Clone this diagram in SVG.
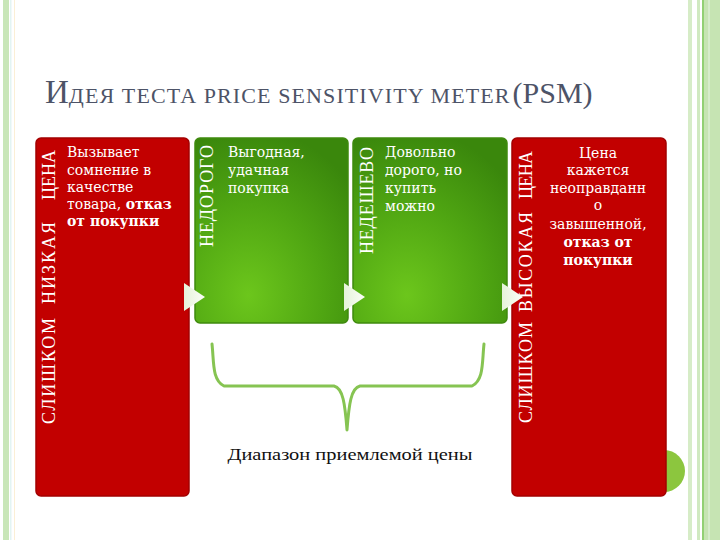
<svg xmlns="http://www.w3.org/2000/svg" width="720" height="540" viewBox="0 0 720 540">
<defs>
<style>
.lbl{font-family:"Liberation Serif","DejaVu Serif",serif;font-size:18px;fill:#ffffff;}
.body{font-family:"DejaVu Serif","Liberation Serif",serif;font-size:14px;fill:#ffffff;}
.bold{font-weight:bold;}
.red{fill:#c20000;stroke:#a30000;stroke-width:1.5;}
.green{fill:url(#gg);stroke:#3f8a0e;stroke-width:1.5;}
.tri{fill:url(#tg);}
</style>
<radialGradient id="gg" cx="0.35" cy="0.85" r="0.9">
<stop offset="0" stop-color="#6cc61c"/>
<stop offset="0.55" stop-color="#4fa512"/>
<stop offset="1" stop-color="#3a870c"/>
</radialGradient>
<linearGradient id="tg" x1="0" y1="0" x2="1" y2="0">
<stop offset="0" stop-color="#e6f3da"/>
<stop offset="1" stop-color="#fbfdf8"/>
</linearGradient>
</defs>
<rect width="720" height="540" fill="#ffffff"/>
<g id="frame">
<rect x="3" y="0" width="6" height="540" fill="#c9e6b8"/>
<rect x="10" y="0" width="1.5" height="540" fill="#e3f4f3"/>
<rect x="14" y="0" width="1" height="540" fill="#fbefd6"/>
<rect x="688" y="0" width="4" height="540" fill="#d6ecc7"/>
<rect x="697" y="0" width="3" height="540" fill="#d0e9c0"/>
<rect x="702" y="0" width="2" height="540" fill="#92d074"/>
<rect x="704" y="0" width="16" height="540" fill="#c6e4b3"/>
<rect x="708" y="0" width="2" height="540" fill="#d6eccb"/>
</g>
<text id="title" x="45" y="103" font-family="'Liberation Serif','DejaVu Serif',serif" fill="#4d5367"><tspan font-size="33">И</tspan><tspan font-size="22" letter-spacing="1.1">ДЕЯ ТЕСТА PRICE SENSITIVITY METER</tspan><tspan font-size="30" dx="2">(PSM)</tspan></text>
<circle id="dot" cx="664" cy="471" r="21" fill="#8cc63e"/>
<g id="n1">
<rect class="red" x="36" y="138" width="153" height="358" rx="5"/>
<g class="lbl" transform="translate(55,0) rotate(-90)">
<text x="-424" y="0" textLength="106" lengthAdjust="spacing">СЛИШКОМ</text>
<text x="-304" y="0" textLength="82" lengthAdjust="spacing">НИЗКАЯ</text>
<text x="-200" y="0" textLength="50" lengthAdjust="spacing">ЦЕНА</text>
</g>
<text class="body" x="67" y="157">Вызывает</text>
<text class="body" x="67" y="175">сомнение в</text>
<text class="body" x="67" y="192">качестве</text>
<text class="body" x="67" y="209">товара, <tspan class="bold">отказ</tspan></text>
<text class="body bold" x="67" y="226">от покупки</text>
</g>
<g id="n2">
<rect class="green" x="195" y="138" width="153" height="185" rx="5"/>
<text class="lbl" transform="translate(213,247) rotate(-90)" textLength="102" lengthAdjust="spacing">НЕДОРОГО</text>
<text class="body" x="228" y="157">Выгодная,</text>
<text class="body" x="228" y="175">удачная</text>
<text class="body" x="228" y="193">покупка</text>
</g>
<g id="n3">
<rect class="green" x="353" y="138" width="154" height="185" rx="5"/>
<text class="lbl" transform="translate(373,254) rotate(-90)" textLength="107" lengthAdjust="spacing">НЕДЕШЕВО</text>
<text class="body" x="385" y="157">Довольно</text>
<text class="body" x="385" y="175">дорого, но</text>
<text class="body" x="385" y="193">купить</text>
<text class="body" x="385" y="211">можно</text>
</g>
<g id="n4">
<rect class="red" x="512" y="138" width="154" height="358" rx="5"/>
<g class="lbl" transform="translate(532,0) rotate(-90)">
<text x="-423" y="0" textLength="101" lengthAdjust="spacing">СЛИШКОМ</text>
<text x="-312" y="0" textLength="100" lengthAdjust="spacing">ВЫСОКАЯ</text>
<text x="-199" y="0" textLength="48" lengthAdjust="spacing">ЦЕНА</text>
</g>
<g class="body" text-anchor="middle">
<text x="598" y="158">Цена</text>
<text x="598" y="175">кажется</text>
<text x="598" y="193">неоправданн</text>
<text x="598" y="210">о</text>
<text x="598" y="229">завышенной,</text>
<text x="598" y="247" class="bold">отказ от</text>
<text x="598" y="265" class="bold">покупки</text>
</g>
</g>
<g id="connectors">
<polygon class="tri" points="184,283 184,311 205,297"/>
<polygon class="tri" points="344,283 344,311 365,297"/>
<polygon class="tri" points="502,283 502,311 523,297"/>
<path d="M212,344 C214,362 212,380 224,386 L334,386 C343,388 345,404 347,430 C349,404 351,388 360,386 L472,386 C484,380 482,362 484,344" fill="none" stroke="#86c452" stroke-width="3" stroke-linecap="round" stroke-linejoin="round"/>
</g>
<text id="range" x="350" y="460" text-anchor="middle" font-family="'Liberation Serif','DejaVu Serif',serif" font-size="17" fill="#111111" textLength="245" lengthAdjust="spacingAndGlyphs">Диапазон приемлемой цены</text>
</svg>
